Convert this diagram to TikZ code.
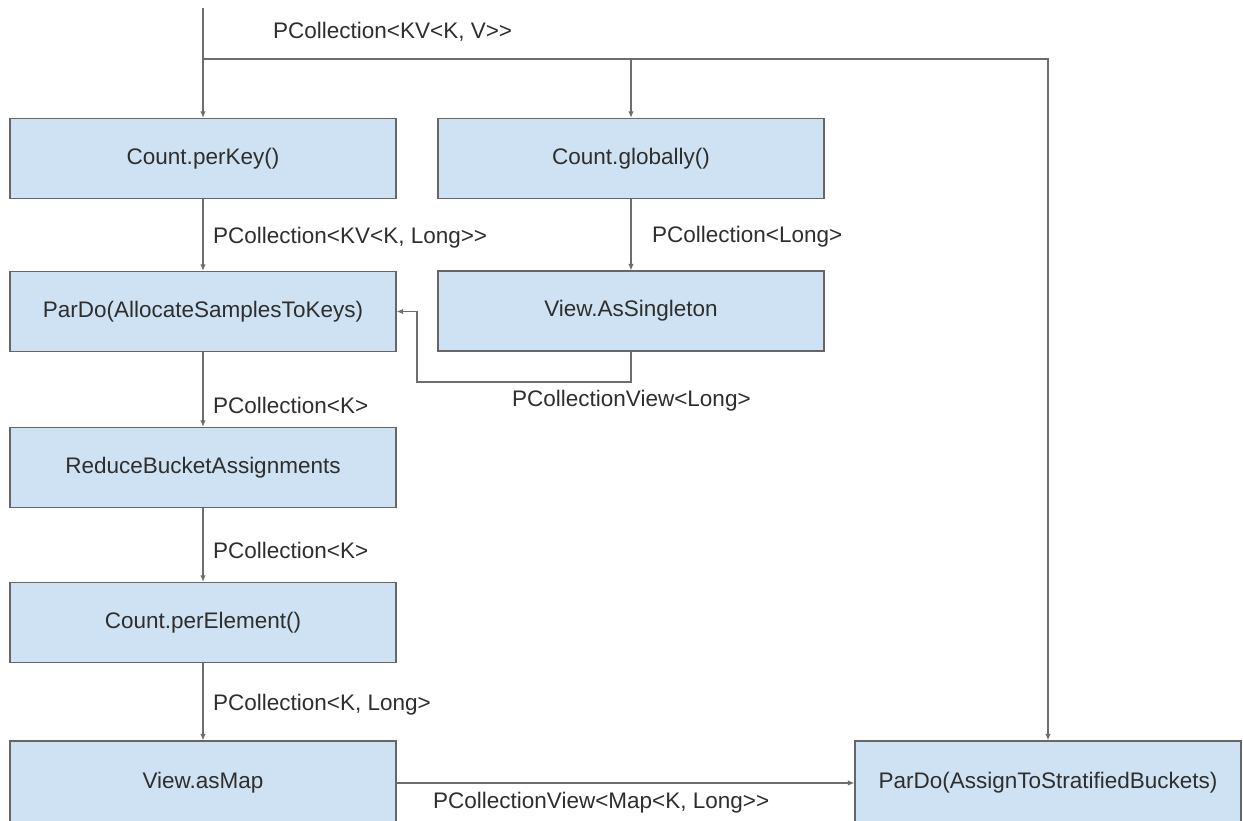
\documentclass[tikz,border=0pt]{standalone}
\usepackage{fontspec}
\setmainfont{Liberation Sans}
\usetikzlibrary{arrows.meta,calc}
\definecolor{boxfill}{HTML}{CFE2F3}
\definecolor{boxline}{HTML}{666666}
\definecolor{wire}{HTML}{6E6E6E}
\definecolor{ink}{HTML}{2E2E2E}
\begin{document}
\begin{tikzpicture}[x=1pt,y=-1pt,
  every node/.style={text=ink,font=\fontsize{22.5}{26}\selectfont},
  stage/.style={draw=boxline,line width=1.3pt,fill=boxfill,minimum width=386pt,minimum height=80pt,inner sep=0pt},
  flow/.style={draw=wire,line width=1.2pt,-{Latex[length=6.5pt,width=5.5pt]}},
  lbl/.style={anchor=west,inner sep=0pt}]
\useasboundingbox (0,0) rectangle (1243,821);

% pipeline stages
\node[stage] (perkey)   at (203,158.5) {Count.perKey()};
\node[stage] (globally) at (631,158.5) {Count.globally()};
\node[stage] (alloc)    at (203,311.5) {ParDo(AllocateSamplesToKeys)};
\node[stage] (single)   at (631,311)   {View.AsSingleton};
\node[stage] (reduce)   at (203,467.5) {ReduceBucketAssignments};
\node[stage] (perelem)  at (203,622.5) {Count.perElement()};
\node[stage,minimum height=84pt] (asmap)  at (203,783) {View.asMap};
\node[stage,minimum height=84pt] (assign) at (1048,783) {ParDo(AssignToStratifiedBuckets)};

% input and its fan-out
\coordinate (src) at (203,8);
\coordinate (fork) at (203,59);
\draw[flow] (src) -- (perkey.north);
\draw[flow] (fork) -| (globally.north);
\draw[flow] (fork) -| (assign.north);

% main chain
\draw[flow] (perkey.south) -- (alloc.north);
\draw[flow] (globally.south) -- (single.north);
\draw[flow] (alloc.south) -- (reduce.north);
\draw[flow] (reduce.south) -- (perelem.north);
\draw[flow] (perelem.south) -- (asmap.north);
\draw[flow] (asmap.east) -- (assign.west);

% side input back into the allocation step
\coordinate (turn) at (417,382);
\draw[flow] (single.south) |- (turn) |- (alloc.east);

% edge labels
\node[lbl] (l0) at (273,32)  {PCollection<KV<K, V>{}>};
\node[lbl] (l1) at (213,238) {PCollection<KV<K, Long>{}>};
\node[lbl] (l2) at (652,237) {PCollection<Long>};
\node[lbl] (l3) at (512,401) {PCollectionView<Long>};
\node[lbl] (l4) at (213,405) {PCollection<K>};
\node[lbl] (l5) at (213,550) {PCollection<K>};
\node[lbl] (l6) at (213,705) {PCollection<K, Long>};
\node[lbl] (l7) at (433,803) {PCollectionView<Map<K, Long>{}>};
\end{tikzpicture}
\end{document}
